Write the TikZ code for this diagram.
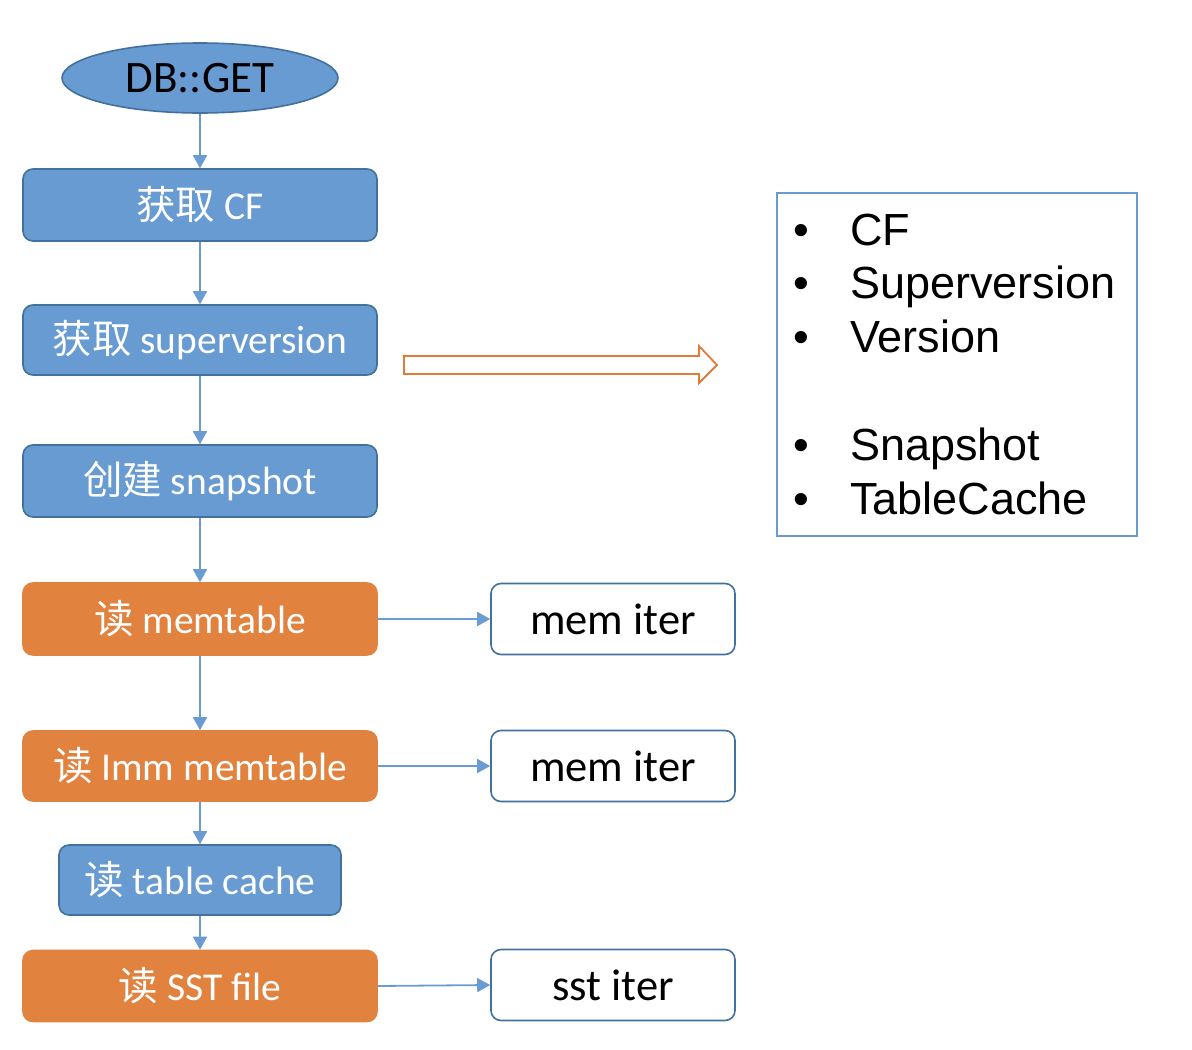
\documentclass[tikz,border=0pt]{standalone}
\usepackage{fontspec}
\setmainfont{Carlito}
\newfontfamily\cjk{Noto Sans CJK SC}
\newfontfamily\arialf{Liberation Sans}
\usetikzlibrary{arrows.meta,shapes.geometric}
\definecolor{bfill}{HTML}{679BD1}
\definecolor{bline}{HTML}{41719C}
\definecolor{ofill}{HTML}{E1823F}
\definecolor{aline}{HTML}{6A9BD3}
\definecolor{hollow}{HTML}{E07B39}
\begin{document}
\begin{tikzpicture}[x=1pt,y=-1pt,
  stepbox/.style={rectangle,rounded corners=10pt,line width=1.6pt,text=white,
    inner sep=0pt,font=\fontsize{39.5}{46}\selectfont},
  bluebox/.style={stepbox,fill=bfill,draw=bline},
  orangebox/.style={stepbox,fill=ofill,draw=ofill},
  iterbox/.style={rectangle,rounded corners=10pt,line width=1.6pt,draw=bline,fill=white,
    minimum width=244pt,minimum height=71pt,inner sep=0pt,font=\fontsize{44.5}{52}\selectfont},
  flow/.style={draw=aline,line width=1.8pt,-{Triangle[width=14pt,length=13pt]}},
  listtext/.style={anchor=base west,inner sep=0pt,font=\arialf\fontsize{45}{52}\selectfont},
  bullet/.style={anchor=base,inner sep=0pt,font=\arialf\fontsize{45}{52}\selectfont}]
\useasboundingbox (0,0) rectangle (1192,1050);
% start ellipse
\node (get) [ellipse,fill=bfill,draw=bline,line width=1.6pt,minimum width=276pt,minimum height=70pt,
  inner sep=0pt,font=\fontsize{45}{52}\selectfont] at (200,78) {DB::GET};
% flow boxes
\node (cf)   [bluebox,minimum width=354pt,minimum height=72pt] at (200,205) {{\cjk 获取} CF};
\node (sv)   [bluebox,minimum width=354pt,minimum height=70pt] at (200,340) {{\cjk 获取} superversion};
\node (snap) [bluebox,minimum width=354pt,minimum height=72pt] at (200,481) {{\cjk 创建} snapshot};
\node (mem)  [orangebox,minimum width=354pt,minimum height=72pt] at (200,619) {{\cjk 读} memtable};
\node (imm)  [orangebox,minimum width=354pt,minimum height=70pt] at (200,766) {{\cjk 读} Imm memtable};
\node (tc)   [bluebox,minimum width=282pt,minimum height=70pt] at (200,880) {{\cjk 读} table cache};
\node (sst)  [orangebox,minimum width=354pt,minimum height=71pt] at (200,986) {{\cjk 读} SST file};
% iterator boxes
\node (it1) [iterbox] at (613,619) {mem iter};
\node (it2) [iterbox] at (613,766) {mem iter};
\node (it3) [iterbox] at (613,985) {sst iter};
% vertical connectors
\draw[flow] (get.south) -- (cf.north);
\draw[flow] (cf.south) -- (sv.north);
\draw[flow] (sv.south) -- (snap.north);
\draw[flow] (snap.south) -- (mem.north);
\draw[flow] (mem.south) -- (imm.north);
\draw[flow] (imm.south) -- (tc.north);
\draw[flow] (tc.south) -- (sst.north);
% horizontal connectors
\draw[flow] (mem.east) -- (it1.west);
\draw[flow] (imm.east) -- (it2.west);
\draw[flow] (sst.east) -- (it3.west);
% hollow arrow
\draw[hollow,line width=1.8pt,fill=white,line join=miter]
  (404,356) -- (699,356) -- (699,346) -- (717,365) -- (699,383) -- (699,374) -- (404,374) -- cycle;
% list box
\node (list) [rectangle,draw=aline,line width=1.6pt,minimum width=360pt,minimum height=343pt,inner sep=0pt]
  at (957,364.5) {};
\foreach \y/\t in {245/CF,298/Superversion,352/Version,460/Snapshot,514/TableCache}{
  \node[bullet] at (801,\y) {•};
  \node[listtext] at (850,\y) {\t};
}
\end{tikzpicture}
\end{document}
